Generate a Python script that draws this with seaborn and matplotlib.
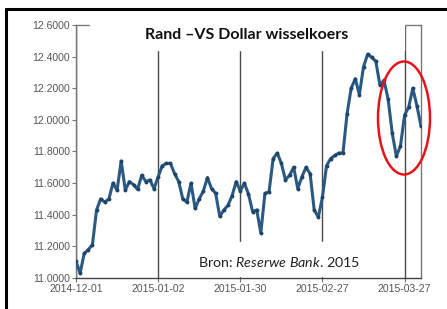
import matplotlib.pyplot as plt
import pandas as pd
import seaborn as sns
from matplotlib.lines import Line2D
from matplotlib.patches import Ellipse, Rectangle

# Rand/USD koers (lees uit die prentjie af)
koers = [
    11.105, 11.03, 11.155, 11.18, 11.21, 11.43, 11.50, 11.48, 11.50, 11.60,
    11.555, 11.74, 11.555, 11.61, 11.59, 11.56, 11.65, 11.61, 11.62, 11.565,
    11.64, 11.71, 11.725, 11.725, 11.66, 11.61, 11.50, 11.48, 11.60, 11.44,
    11.50, 11.55, 11.635, 11.565, 11.535, 11.39, 11.43, 11.46, 11.52, 11.61,
    11.55, 11.60, 11.53, 11.42, 11.43, 11.285, 11.535, 11.545, 11.755, 11.79,
    11.725, 11.62, 11.65, 11.70, 11.565, 11.64, 11.70, 11.66, 11.43, 11.385,
    11.51, 11.71, 11.755, 11.775, 11.79, 11.79, 12.04, 12.20, 12.26, 12.16,
    12.335, 12.415, 12.395, 12.37, 12.22, 12.25, 12.13, 11.915, 11.77, 11.835,
    12.03, 12.08, 12.20, 12.09, 11.96,
]
tick_posisies = [0, 20, 40, 60, 80]
tick_datums = ["2014-12-01", "2015-01-02", "2015-01-30", "2015-02-27", "2015-03-27"]
y_ticks = [11.0, 11.2, 11.4, 11.6, 11.8, 12.0, 12.2, 12.4, 12.6]

sns.set_theme(style="white")
plt.rcParams["font.family"] = ["Liberation Sans", "DejaVu Sans"]
plt.rcParams["mathtext.fontset"] = "custom"
plt.rcParams["mathtext.rm"] = "Lato"
plt.rcParams["mathtext.it"] = "Lato:italic"

df = pd.DataFrame({"dag": range(len(koers)), "koers": koers})

W, H = 447, 309
fig = plt.figure(figsize=(W / 100, H / 100), dpi=100)
ax = fig.add_axes([76 / W, 1 - 278 / H, 345 / W, 253 / H])

for pos in tick_posisies:
    ax.axvline(pos, color="#4a4a4a", lw=1.0, zorder=1)

sns.lineplot(
    data=df, x="dag", y="koers", ax=ax, color="#2a5983", lw=2.2,
    marker="o", markersize=2.8, markeredgewidth=0, markerfacecolor="#1e4468",
    zorder=3,
)

ax.set_xlim(0, len(koers) - 1)
ax.set_ylim(11.0, 12.6)
ax.set_yticks(y_ticks)
ax.set_yticklabels([f"{v:.4f}" for v in y_ticks])
ax.set_xticks(tick_posisies)
ax.set_xticklabels(tick_datums)
ax.set_xlabel("")
ax.set_ylabel("")
ax.tick_params(axis="both", labelsize=7.5, labelcolor="#555555", colors="#777777",
               length=3, width=0.8, pad=1.5, direction="out", left=True, bottom=True)
for side in ["left", "right", "top", "bottom"]:
    ax.spines[side].set_visible(True)
    ax.spines[side].set_color("#777777")
    ax.spines[side].set_linewidth(1.0)
ax.spines["bottom"].set_color("#444444")

# wit blokke wat oor die grafiek geplak is
fig.add_artist(Rectangle((90 / W, 1 - 50 / H), 314 / W, 40 / H,
                         transform=fig.transFigure, color="white", zorder=5))
fig.add_artist(Rectangle((165 / W, 1 - 276 / H), 236 / W, 34 / H,
                         transform=fig.transFigure, color="white", zorder=5))

fig.text(247 / W, 1 - 35 / H, "Rand \u2013VS Dollar wisselkoers", ha="center", va="center",
         fontsize=11.5, fontweight="bold", family=["Lato", "DejaVu Sans"], color="#111111",
         zorder=6)
fig.text(198 / W, 1 - 262 / H, "Bron: $\\it{Reserwe\\ Bank}$. 2015", ha="left",
         va="center", fontsize=10.3, family=["Lato", "DejaVu Sans"], color="#222222",
         zorder=6)

# rooi ellips rondom die laaste daling
fig.add_artist(Ellipse((404 / W, 1 - 118 / H), 52 / W, 113 / H, transform=fig.transFigure,
                       fill=False, edgecolor="#e3141b", lw=1.8, zorder=7))

# swart raam links en bo
fig.add_artist(Line2D([6 / W, 6 / W], [0, 1 - 9 / H], transform=fig.transFigure,
                      color="black", lw=2.2, zorder=8))
fig.add_artist(Line2D([6 / W, 1], [1 - 9 / H, 1 - 9 / H], transform=fig.transFigure,
                      color="black", lw=2.2, zorder=8))

fig.savefig("out.png", dpi=100)
